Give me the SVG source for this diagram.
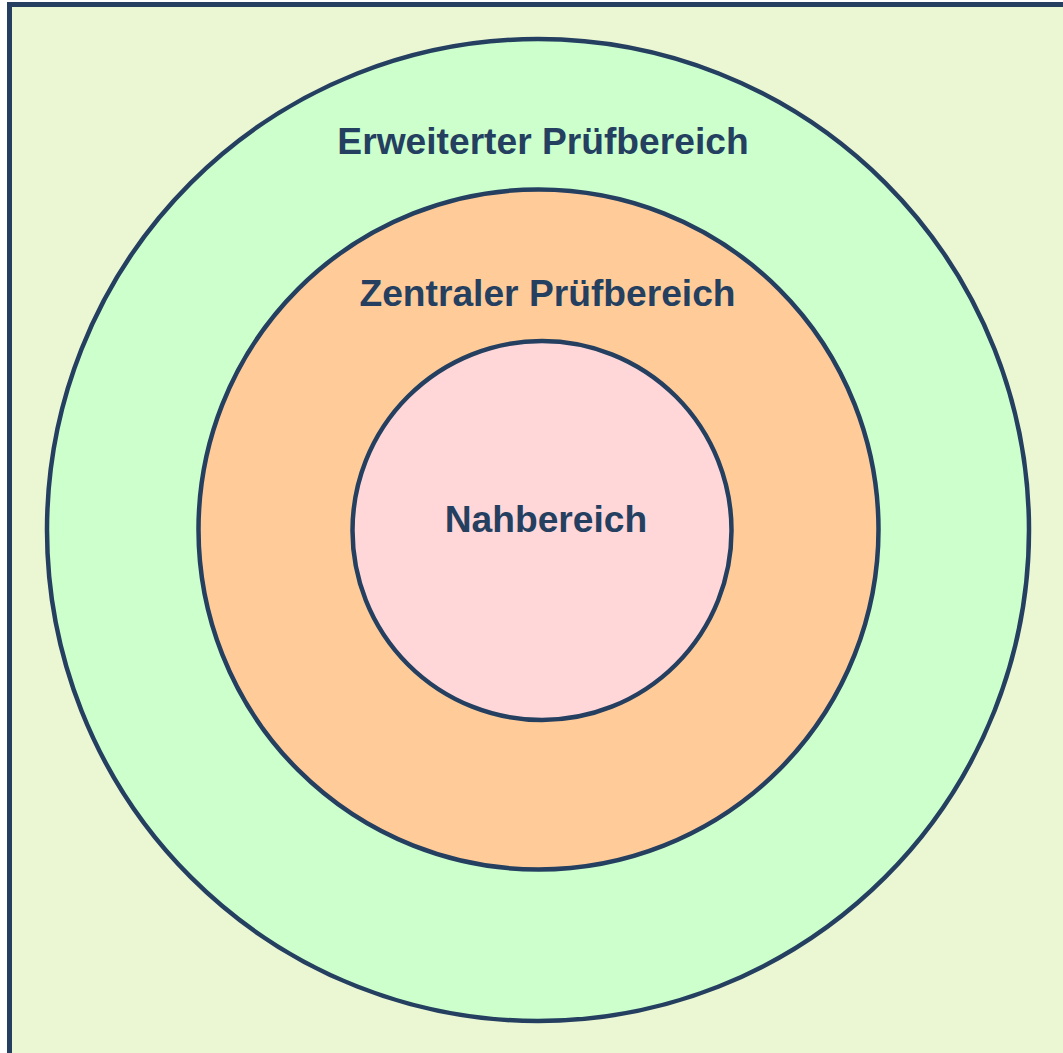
<svg xmlns="http://www.w3.org/2000/svg" width="1063" height="1053" viewBox="0 0 1063 1053">
<style>
.ring{stroke:#243F60;stroke-width:4.5}
.lbl{font-family:"Liberation Sans",Arial,sans-serif;font-weight:bold;font-size:37.2px;fill:#243F60;text-anchor:middle}
</style>
<rect x="0" y="0" width="1063" height="1053" fill="#FFFFFF"/>
<g id="frame"><rect x="9.5" y="4.5" width="1080" height="1080" fill="#EBF7D3" stroke="#243F60" stroke-width="5"/></g>
<g id="erweiterter">
<circle class="ring" cx="538" cy="530" r="491" fill="#CCFFCC"/>
<text class="lbl" x="543" y="154">Erweiterter Prüfbereich</text>
</g>
<g id="zentraler">
<circle class="ring" cx="538.5" cy="529.5" r="340" fill="#FFCC99"/>
<text class="lbl" x="547.5" y="306">Zentraler Prüfbereich</text>
</g>
<g id="nahbereich">
<circle class="ring" cx="542" cy="530.5" r="189.5" fill="#FFD7D9"/>
<text class="lbl" x="546" y="532">Nahbereich</text>
</g>
<g id="connectors"></g>
</svg>
